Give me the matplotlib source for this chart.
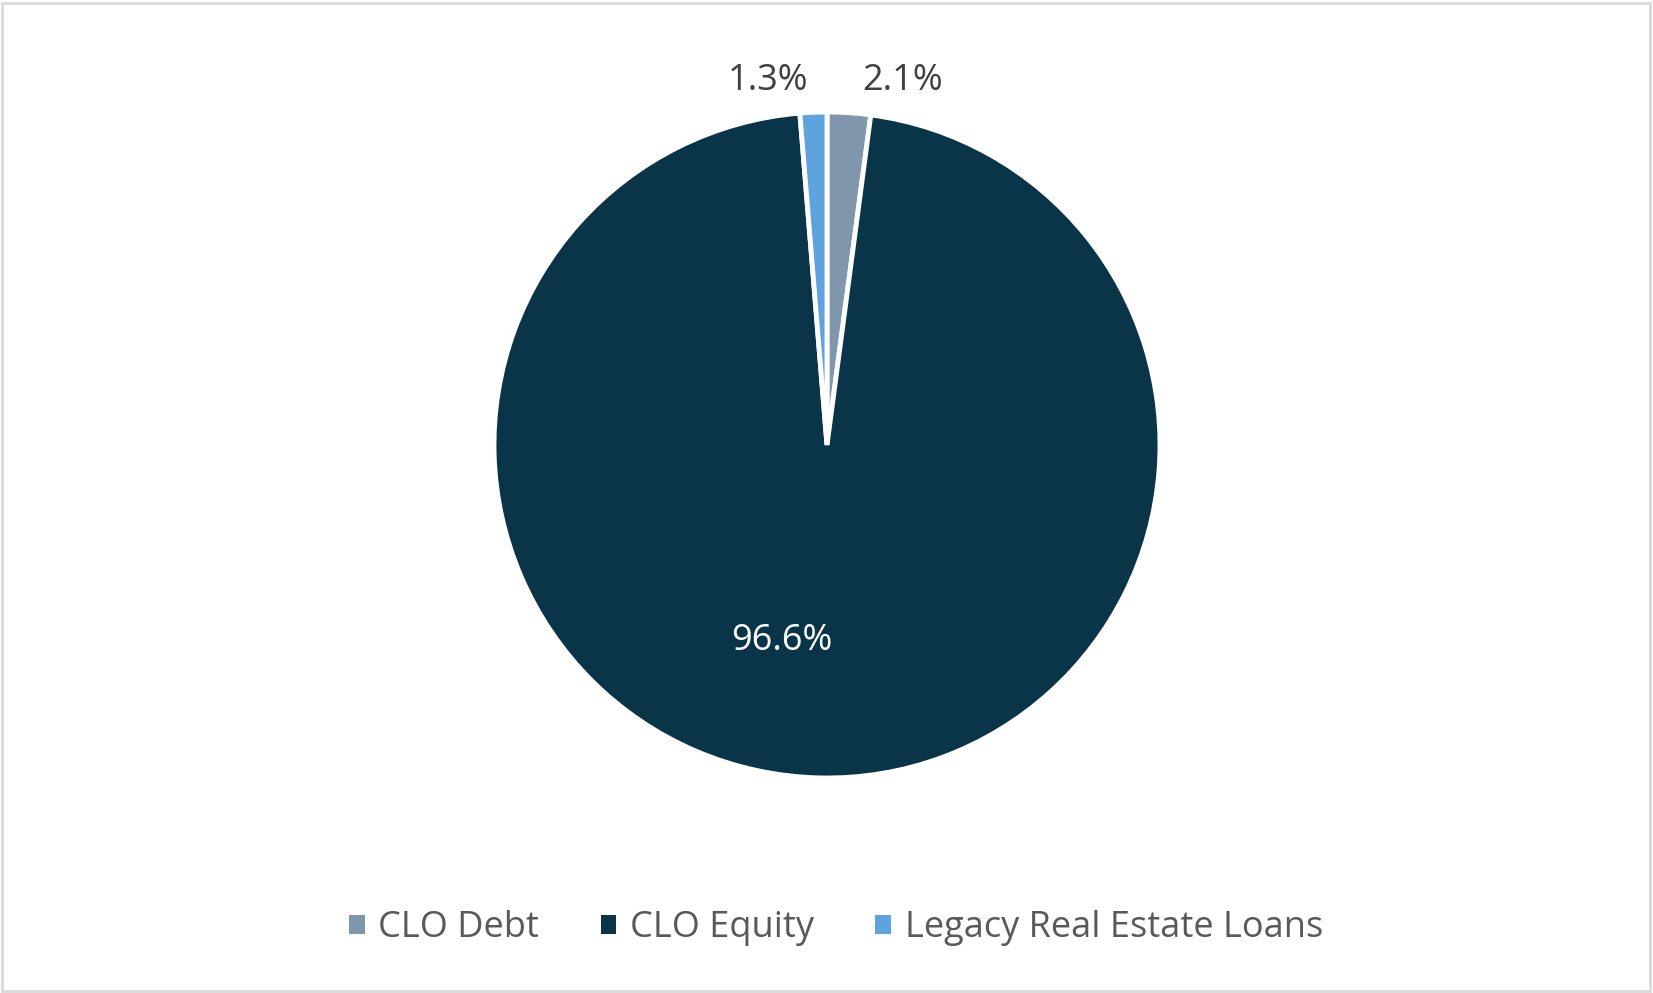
import numpy as np
import matplotlib.pyplot as plt
from matplotlib.patches import Rectangle

# data
categories = ["CLO Debt", "CLO Equity", "Legacy Real Estate Loans"]
shares = [2.1, 96.6, 1.3]
colors = ["#7f96ad", "#0a3549", "#5ea3de"]

plt.rcParams['font.family'] = ['Open Sans', 'DejaVu Sans']

W, H = 1653, 993
fig = plt.figure(figsize=(W / 100, H / 100), dpi=100)
fig.patch.set_facecolor("white")
fig.add_artist(Rectangle((0.001, 0.002), 0.997, 0.995, transform=fig.transFigure,
                         fill=False, edgecolor="#d9d9d9", linewidth=2))

# pie centre / radius in pixels
cx, cy, r = 827, 445, 333
ax = fig.add_axes([(cx - r) / W, (H - cy - r) / H, 2 * r / W, 2 * r / H])
wedges, _ = ax.pie(shares, colors=colors, startangle=90, counterclock=False,
                   radius=1.0, wedgeprops=dict(edgecolor="white", linewidth=3.5))
ax.set_xlim(-1, 1)
ax.set_ylim(-1, 1)
ax.set_aspect("equal")
ax.axis("off")

# data labels
label_cfg = {
    "CLO Debt": dict(dist=1.095, dx=8, ha="left", color="#404040"),
    "CLO Equity": dict(dist=0.59, dx=-29, ha="center", color="white"),
    "Legacy Real Estate Loans": dict(dist=1.095, dx=-3, ha="right", color="#404040"),
}
for w, name, val in zip(wedges, categories, shares):
    ang = np.deg2rad((w.theta1 + w.theta2) / 2)
    c = label_cfg[name]
    x, y = c["dist"] * np.cos(ang), c["dist"] * np.sin(ang)
    ax.annotate(f"{val:.1f}%", (x, y), xytext=(c["dx"], 0), textcoords="offset points",
                ha=c["ha"], va="center", fontsize=26, color=c["color"],
                annotation_clip=False)

leg = fig.legend(wedges, categories, loc="center", bbox_to_anchor=(836 / W, 1 - 928 / H),
                 ncol=3, frameon=False, fontsize=26, handlelength=0.43, handleheight=0.43,
                 handletextpad=0.38, columnspacing=1.7)
for t in leg.get_texts():
    t.set_color("#595959")
for h in leg.legend_handles:
    h.set_edgecolor("none")

fig.savefig("out.png", dpi=100)
